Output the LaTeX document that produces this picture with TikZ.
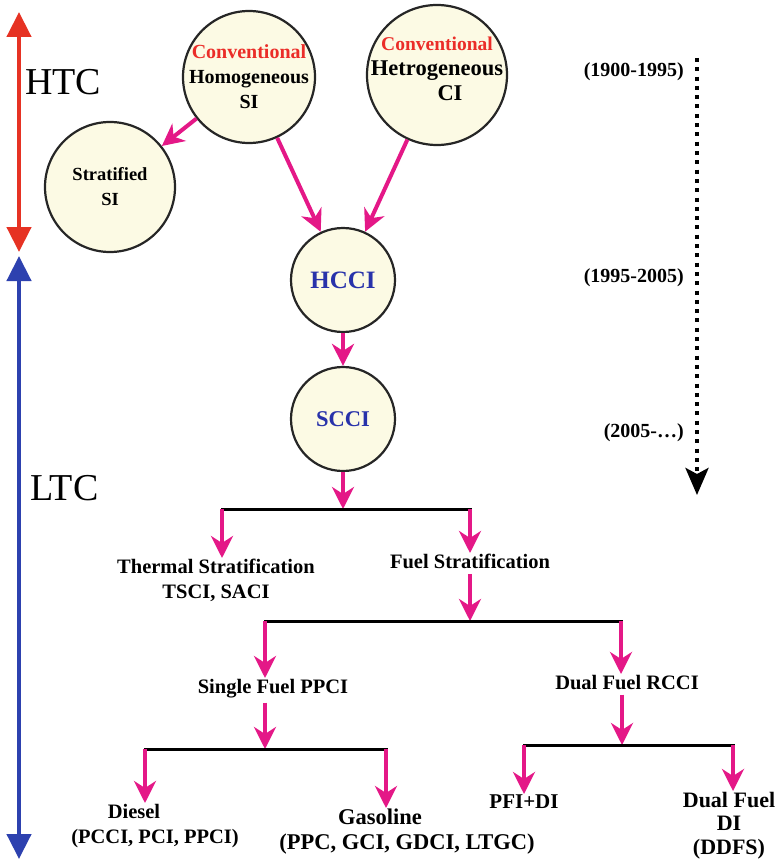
\documentclass[tikz,border=0pt]{standalone}
\usepackage{fontspec}
\setmainfont{Liberation Serif}
\usetikzlibrary{arrows.meta}
\definecolor{cream}{RGB}{252,250,228}
\definecolor{convred}{RGB}{235,45,40}
\definecolor{flowpink}{RGB}{228,24,135}
\definecolor{htcred}{RGB}{230,50,35}
\definecolor{ltcblue}{RGB}{45,65,175}
\definecolor{modeblue}{RGB}{40,50,170}
\tikzset{
  stage/.style={circle, draw=black!85, line width=2.2pt, fill=cream, inner sep=0pt},
  stage text/.style={font=\bfseries\fontsize{#1}{25}\selectfont, align=center, inner sep=0pt},
  stage text/.default=20,
  branch/.style={font=\bfseries\fontsize{#1}{25}\selectfont, align=center, inner sep=1pt, text depth=0pt, anchor=north},
  branch/.default=20.5,
  flow/.style={draw=flowpink, line width=4pt, -{Stealth[length=22pt,width=22pt,inset=7pt]}},
  bar/.style={line width=3pt, line cap=rect},
  regime/.style={font=\fontsize{38}{40}\selectfont, anchor=base west, inner sep=0pt},
  era/.style={font=\bfseries\fontsize{20}{22}\selectfont, anchor=east, inner sep=0pt},
  timeline/.style={line width=4.5pt, {Triangle[length=25pt,width=24pt]}-{Triangle[length=25pt,width=24pt]}},
}

\begin{document}
\begin{tikzpicture}[x=1pt, y=-1pt]
  \useasboundingbox (0,0) rectangle (779,861);
  % HTC / LTC
  \draw[timeline, htcred] (19,12) coordinate (htctop) -- (19,252) coordinate (htcbot);
  \draw[timeline, ltcblue] (19,256) coordinate (ltctop) -- (19,859) coordinate (ltcbot);
  \node[regime] (htc) at (25,95) {HTC};
  \node[regime] (ltc) at (30,500) {LTC};
  % years
  \draw[line width=4pt, dash pattern=on 4pt off 5.3pt, -{Stealth[length=27pt,width=23pt,inset=6pt]}] (697,58) coordinate (ytop) -- (697,495) coordinate (ybot);
  \node[era] (y1) at (684,72) {(1900-1995)};
  \node[era] (y2) at (684,278) {(1995-2005)};
  \node[era] (y3) at (684,433) {(2005-…)};
  % combustion modes
  \node[stage, minimum size=132pt, label={[stage text]center:{\textcolor{convred}{Conventional}\\Homogeneous\\SI}}] (homo) at (249,77) {};
  \node[stage, minimum size=140pt, label={[stage text=22.5, yshift=6pt]center:{{\fontsize{19.5}{25}\selectfont\textcolor{convred}{Conventional}}\\Hetrogeneous\\\hspace*{26pt}CI}}] (het) at (437,75) {};
  \node[stage, minimum size=130pt, label={[stage text=18.5]center:{Stratified\\SI}}] (strat) at (110,187) {};
  \node[stage, minimum size=104pt, font=\bfseries\fontsize{25}{27}\selectfont, text=modeblue] (hcci) at (343,280) {HCCI};
  \node[stage, minimum size=104pt, font=\bfseries\fontsize{22.5}{25}\selectfont, text=modeblue] (scci) at (343,419) {SCCI};
  \draw[flow] (homo) -- (strat);
  \draw[flow] (homo) -- (hcci);
  \draw[flow] (het) -- (hcci);
  \draw[flow] (hcci) -- (scci);
  % stratification tree
  \coordinate (j1) at (343,509);
  \draw[flow] (scci) -- (j1);
  \draw[bar] (222,509) coordinate (b1l) -- (470,509) coordinate (b1r);
  \node[branch] (therm) at (216,558) {Thermal Stratification\\TSCI, SACI};
  \node[branch] (fuel) at (470,553) {Fuel Stratification};
  \draw[flow] (b1l) -- (b1l |- therm.north);
  \draw[flow] (b1r) -- (b1r |- fuel.north);
  \coordinate (j2) at (470,621);
  \draw[flow, shorten <=4pt] (j2 |- fuel.south) -- (j2);
  \draw[bar] (265,621) coordinate (b2l) -- (621,621) coordinate (b2r);
  \node[branch] (single) at (273,678) {Single Fuel PPCI};
  \node[branch] (dual) at (627,674) {Dual Fuel RCCI};
  \draw[flow] (b2l) -- (b2l |- single.north);
  \draw[flow] (b2r) -- (b2r |- dual.north);
  \coordinate (j3) at (265,749);
  \coordinate (j4) at (622,745);
  \draw[flow, shorten <=8pt] (j3 |- single.south) -- (j3);
  \draw[flow, shorten <=4pt] (j4 |- dual.south) -- (j4);
  \draw[bar] (145,749) coordinate (b3l) -- (386,749) coordinate (b3r);
  \draw[bar] (524,745) coordinate (b4l) -- (733,745) coordinate (b4r);
  \node[branch=20.5] (diesel) at (155,803) {Diesel\hspace*{42pt}\\(PCCI, PCI, PPCI)};
  \node[branch=22.5] (gasoline) at (407,808) {Gasoline\hspace*{54pt}\\(PPC, GCI, GDCI, LTGC)};
  \node[branch=21] (pfidi) at (524,794) {PFI+DI};
  \node[branch=22, font=\bfseries\fontsize{22}{23.5}\selectfont] (ddfs) at (729,791) {Dual Fuel\\DI\\(DDFS)};
  \draw[flow] (b3l) -- (b3l |- diesel.north);
  \draw[flow] (b3r) -- (b3r |- gasoline.north);
  \draw[flow] (b4l) -- (b4l |- pfidi.north);
  \draw[flow] (b4r) -- (b4r |- ddfs.north);
\end{tikzpicture}
\end{document}
